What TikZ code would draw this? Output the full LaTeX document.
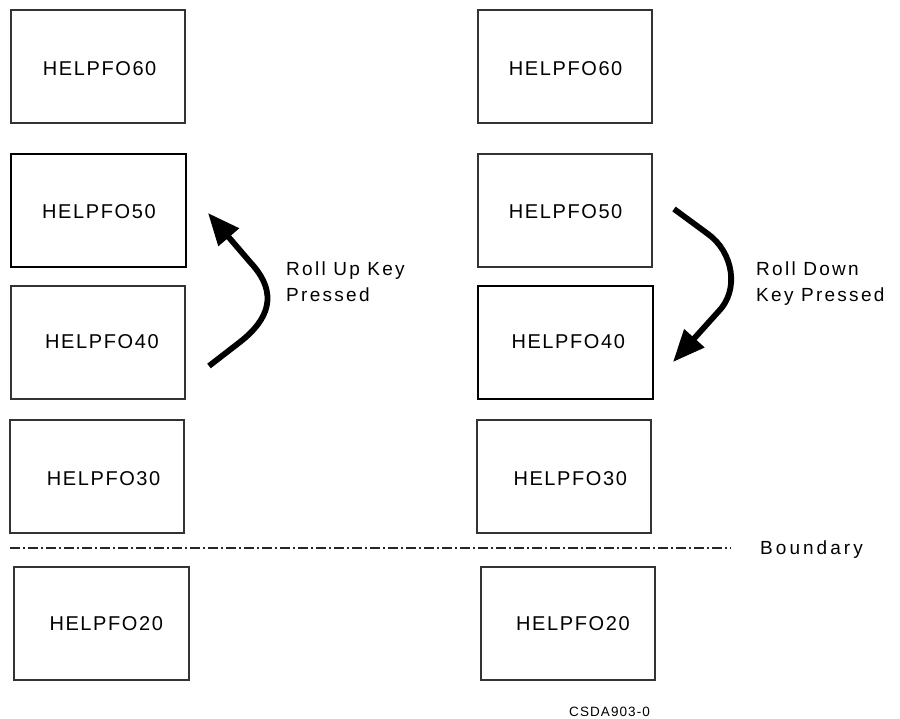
\documentclass[tikz,border=0pt]{standalone}
\usepackage{fontspec}
\setmainfont{Liberation Sans}
\newfontfamily\boxfont[LetterSpace=8]{Liberation Sans}
\newfontfamily\notefont[LetterSpace=12]{Liberation Sans}
\newfontfamily\widefont[LetterSpace=16]{Liberation Sans}
\newfontfamily\idfont[LetterSpace=8]{Liberation Sans}
\usetikzlibrary{arrows.meta}
\tikzset{
  framebox/.style={draw=black!80, line width=1.2pt, inner sep=0pt},
  current/.style={draw=black, line width=2pt, inner sep=0pt},
  pagename/.style={inner sep=0pt, anchor=base west, font=\boxfont\fontsize{20}{20}\selectfont},
  note/.style={inner sep=0pt, anchor=base west, font=\notefont\fontsize{19}{19}\selectfont},
  widenote/.style={inner sep=0pt, anchor=base west, font=\widefont\fontsize{19}{19}\selectfont},
  ident/.style={inner sep=0pt, anchor=base west, font=\idfont\fontsize{13.5}{13.5}\selectfont},
  rollarrow/.style={line width=5.8pt, -{Triangle[length=32pt,width=26pt]}},
  boundaryline/.style={line width=1.4pt, black!85, dash pattern=on 10pt off 3pt on 2pt off 3pt}
}
\begin{document}
\begin{tikzpicture}[x=1pt,y=-1pt]
\useasboundingbox (0,0) rectangle (900,719);

% ---- left stack ----
\path[framebox] (11,10) rectangle (185,123) node[midway] (L60) {};
\path[current]  (11,154) rectangle (186,267) node[midway] (L50) {};
\path[framebox] (11,286) rectangle (185,399) node[midway] (L40) {};
\path[framebox] (10,420) rectangle (184,533) node[midway] (L30) {};
\path[framebox] (14,567) rectangle (189,680) node[midway] (L20) {};

\node[pagename] (tL60) at (42.7,76) {HELPFO60};
\node[pagename] (tL50) at (42,218.3) {HELPFO50};
\node[pagename] (tL40) at (45,348.3) {HELPFO40};
\node[pagename] (tL30) at (46.7,485.7) {HELPFO30};
\node[pagename] (tL20) at (49.3,630.7) {HELPFO20};

% ---- right stack ----
\path[framebox] (478,10) rectangle (652,123) node[midway] (R60) {};
\path[framebox] (478,154) rectangle (652,267) node[midway] (R50) {};
\path[current]  (478,286) rectangle (653,399) node[midway] (R40) {};
\path[framebox] (477,420) rectangle (651,533) node[midway] (R30) {};
\path[framebox] (481,567) rectangle (655,680) node[midway] (R20) {};

\node[pagename] (tR60) at (508.7,76) {HELPFO60};
\node[pagename] (tR50) at (508.7,218.3) {HELPFO50};
\node[pagename] (tR40) at (511.3,348.3) {HELPFO40};
\node[pagename] (tR30) at (513.3,485.7) {HELPFO30};
\node[pagename] (tR20) at (516,630.7) {HELPFO20};

% ---- roll up ----
\coordinate (upS) at (209,366);
\coordinate (upE) at (208,213);
\draw[rollarrow] (upS) -- (240,342) .. controls (268,320) and (280,294) .. (250,262) -- (upE);
\node[note] (up1) at (286,275.7) {Roll Up Key};
\node[note] (up2) at (286,301.7) {Pressed};

% ---- roll down ----
\coordinate (dnS) at (674,209);
\coordinate (dnE) at (673,362);
\draw[rollarrow] (dnS) -- (708,234) .. controls (733,252) and (740,290) .. (718,312) -- (dnE);
\node[note] (dn1) at (756,275.7) {Roll Down};
\node[note] (dn2) at (756,301.7) {Key Pressed};

% ---- boundary ----
\coordinate (bdA) at (10,548);
\coordinate (bdB) at (731,548);
\draw[boundaryline] (bdA) -- (bdB);
\node[widenote] (bd) at (760,554) {Boundary};

\node[ident] (id) at (569,716.5) {CSDA903-0};
\end{tikzpicture}
\end{document}
